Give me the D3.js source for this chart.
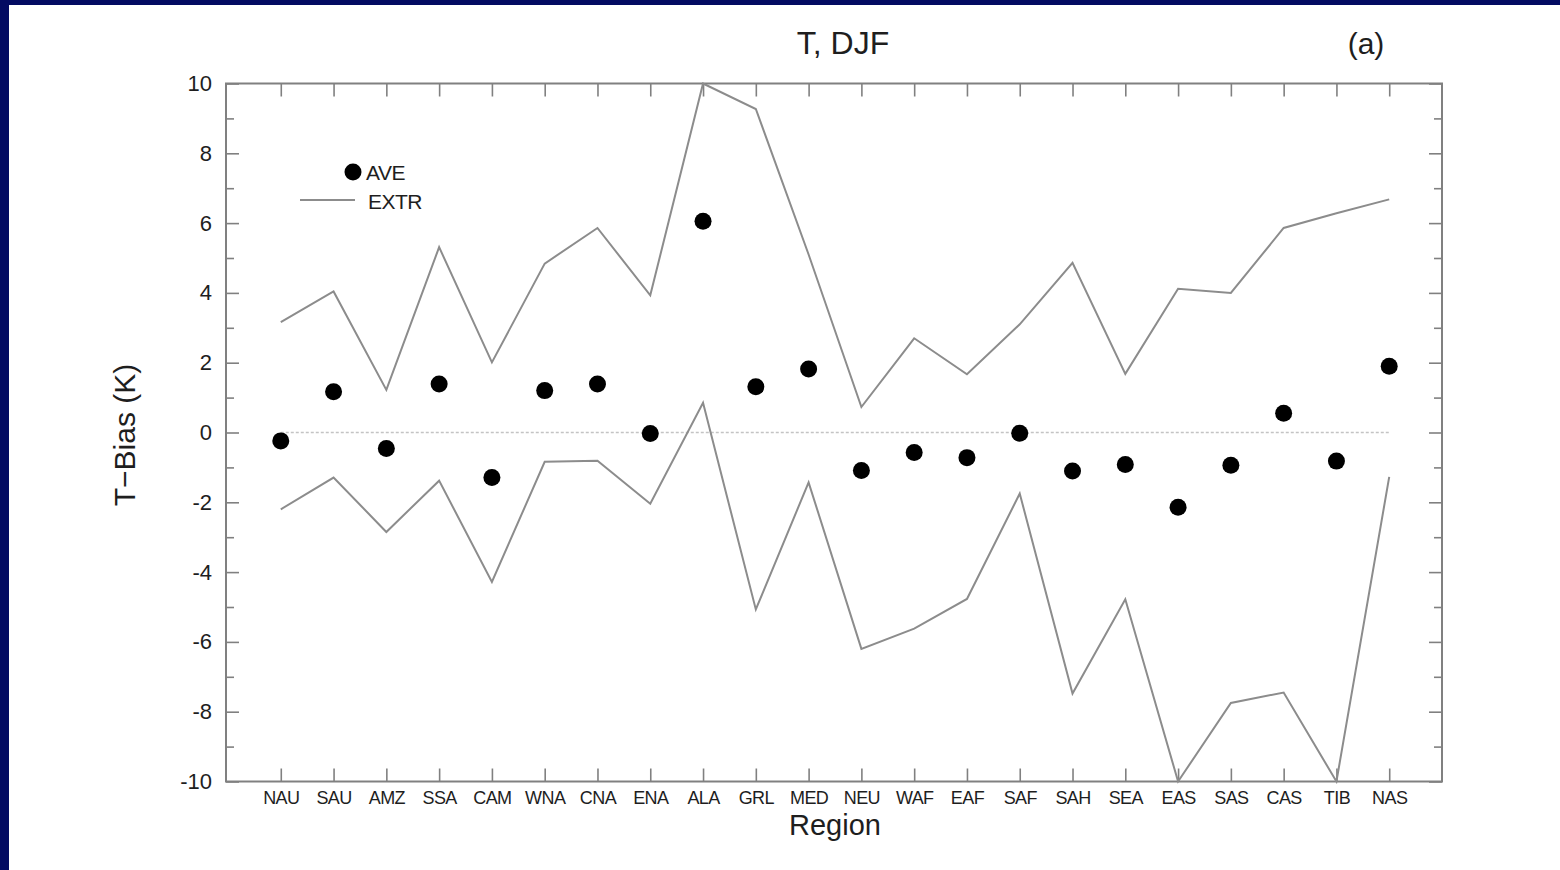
<!DOCTYPE html>
<html>
<head>
<meta charset="utf-8">
<script src="https://cdn.jsdelivr.net/npm/d3@7"></script>
<style>
  html, body { margin: 0; padding: 0; background: #fff; }
  body { width: 1560px; height: 870px; overflow: hidden; }
  #chart { position: absolute; left: 0; top: 0; }
</style>
</head>
<body>
<div id="chart"></div>
<script>
// Regions along the x axis
const regions = ["NAU", "SAU", "AMZ", "SSA", "CAM", "WNA", "CNA", "ENA", "ALA", "GRL", "MED",
                 "NEU", "WAF", "EAF", "SAF", "SAH", "SEA", "EAS", "SAS", "CAS", "TIB", "NAS"];

// Average temperature bias (K), DJF
const aveBias = [-0.24, 1.17, -0.46, 1.39, -1.29, 1.20, 1.39, -0.03, 6.05, 1.31, 1.82,
                 -1.09, -0.57, -0.72, -0.02, -1.10, -0.92, -2.14, -0.94, 0.55, -0.82, 1.90];

// Extremes (upper and lower envelope)
const extrMax = [3.16, 4.04, 1.22, 5.31, 2.01, 4.84, 5.86, 3.93, 10.0, 9.27, 5.10,
                 0.73, 2.70, 1.67, 3.10, 4.86, 1.68, 4.12, 4.00, 5.86, 6.28, 6.68];
const extrMin = [-2.20, -1.29, -2.85, -1.38, -4.28, -0.84, -0.81, -2.04, 0.85, -5.07, -1.43,
                 -6.20, -5.62, -4.77, -1.75, -7.48, -4.78, -10.0, -7.75, -7.45, -10.0, -1.27];

const majorTicks = [-10, -8, -6, -4, -2, 0, 2, 4, 6, 8, 10];
const minorTicks = [-9, -7, -5, -3, -1, 1, 3, 5, 7, 9];

const width = 1560;
const height = 870;
const marginTop = 83.5;
const marginRight = 118;
const marginBottom = 88.5;
const marginLeft = 226;

const fontFamily = "'Liberation Sans', Arial, sans-serif";
const textColor = "#1e1e1e";
const axisColor = "#808080";

const x = d3.scalePoint()
    .domain(regions)
    .range([marginLeft + 2, width - marginRight])
    .padding(1);

const y = d3.scaleLinear()
    .domain([-10, 10])
    .range([height - marginBottom, marginTop]);

const svg = d3.create("svg")
    .attr("width", width)
    .attr("height", height)
    .attr("viewBox", [0, 0, width, height]);

// Navy slide border (top and left)
svg.append("rect").attr("x", 0).attr("y", 0).attr("width", width).attr("height", height).attr("fill", "#fff");
svg.append("rect").attr("x", 0).attr("y", 0).attr("width", width).attr("height", 5).attr("fill", "#030b62");
svg.append("rect").attr("x", 0).attr("y", 0).attr("width", 9).attr("height", height).attr("fill", "#030b62");

// Zero reference line
svg.append("line")
    .attr("x1", x(regions[0]))
    .attr("x2", x(regions[regions.length - 1]))
    .attr("y1", y(0))
    .attr("y2", y(0))
    .attr("stroke", "#c4c4c4")
    .attr("stroke-width", 1.5)
    .attr("stroke-dasharray", "3,2");

// Axes: ticks point inward
function styleAxis(g) {
    g.select(".domain").remove();
    g.selectAll(".tick line").attr("stroke", axisColor).attr("stroke-width", 1.6);
    g.selectAll(".tick text")
        .attr("fill", textColor)
        .style("font-family", fontFamily);
}

svg.append("g")
    .attr("transform", `translate(${marginLeft},0)`)
    .call(d3.axisLeft(y).tickValues(majorTicks).tickSize(-13).tickPadding(14).tickFormat(d => String(d)))
    .call(styleAxis)
    .call(g => g.selectAll(".tick text").style("font-size", "22px"));

svg.append("g")
    .attr("transform", `translate(${marginLeft},0)`)
    .call(d3.axisLeft(y).tickValues(minorTicks).tickSize(-8).tickFormat(""))
    .call(styleAxis);

svg.append("g")
    .attr("transform", `translate(${width - marginRight},0)`)
    .call(d3.axisRight(y).tickValues(majorTicks).tickSize(-13).tickFormat(""))
    .call(styleAxis);

svg.append("g")
    .attr("transform", `translate(${width - marginRight},0)`)
    .call(d3.axisRight(y).tickValues(minorTicks).tickSize(-8).tickFormat(""))
    .call(styleAxis);

svg.append("g")
    .attr("transform", `translate(0,${height - marginBottom})`)
    .call(d3.axisBottom(x).tickSize(-13).tickPadding(10))
    .call(styleAxis)
    .call(g => g.selectAll(".tick text")
        .style("font-size", "18px")
        .style("letter-spacing", "-0.6px"));

svg.append("g")
    .attr("transform", `translate(0,${marginTop})`)
    .call(d3.axisTop(x).tickSize(-13).tickFormat(""))
    .call(styleAxis);

// Plot frame
svg.append("rect")
    .attr("x", marginLeft)
    .attr("y", marginTop)
    .attr("width", width - marginRight - marginLeft)
    .attr("height", height - marginBottom - marginTop)
    .attr("fill", "none")
    .attr("stroke", axisColor)
    .attr("stroke-width", 2);

// Extreme envelopes
const line = d3.line()
    .x((d, i) => x(regions[i]))
    .y(d => y(d));

[extrMax, extrMin].forEach(series => {
    svg.append("path")
        .datum(series)
        .attr("d", line)
        .attr("fill", "none")
        .attr("stroke", "#8c8c8c")
        .attr("stroke-width", 2)
        .attr("stroke-linejoin", "miter");
});

// Average dots
svg.append("g")
    .selectAll("circle")
    .data(aveBias)
    .join("circle")
        .attr("cx", (d, i) => x(regions[i]))
        .attr("cy", d => y(d))
        .attr("r", 8.5)
        .attr("fill", "#000");

// Legend
const legend = svg.append("g")
    .style("font-family", fontFamily)
    .style("font-size", "21px")
    .style("letter-spacing", "-0.5px")
    .attr("fill", textColor);
legend.append("circle").attr("cx", 353).attr("cy", 172).attr("r", 8.5).attr("fill", "#000");
legend.append("text").attr("x", 366).attr("y", 180).text("AVE");
legend.append("line")
    .attr("x1", 300).attr("x2", 355).attr("y1", 200).attr("y2", 200)
    .attr("stroke", "#8c8c8c").attr("stroke-width", 2);
legend.append("text").attr("x", 368).attr("y", 209).text("EXTR");

// Titles and axis labels
svg.append("text")
    .attr("x", 843).attr("y", 54)
    .attr("text-anchor", "middle")
    .style("font-family", fontFamily).style("font-size", "32px")
    .attr("fill", textColor)
    .text("T, DJF");

svg.append("text")
    .attr("x", 1366).attr("y", 54)
    .attr("text-anchor", "middle")
    .style("font-family", fontFamily).style("font-size", "30px")
    .attr("fill", textColor)
    .text("(a)");

svg.append("text")
    .attr("transform", "translate(135,435) rotate(-90)")
    .attr("text-anchor", "middle")
    .style("font-family", fontFamily).style("font-size", "30px")
    .attr("fill", textColor)
    .text("T\u2212Bias (K)");

svg.append("text")
    .attr("x", 835).attr("y", 835)
    .attr("text-anchor", "middle")
    .style("font-family", fontFamily).style("font-size", "29px")
    .attr("fill", textColor)
    .text("Region");

document.getElementById("chart").appendChild(svg.node());
</script>
</body>
</html>
